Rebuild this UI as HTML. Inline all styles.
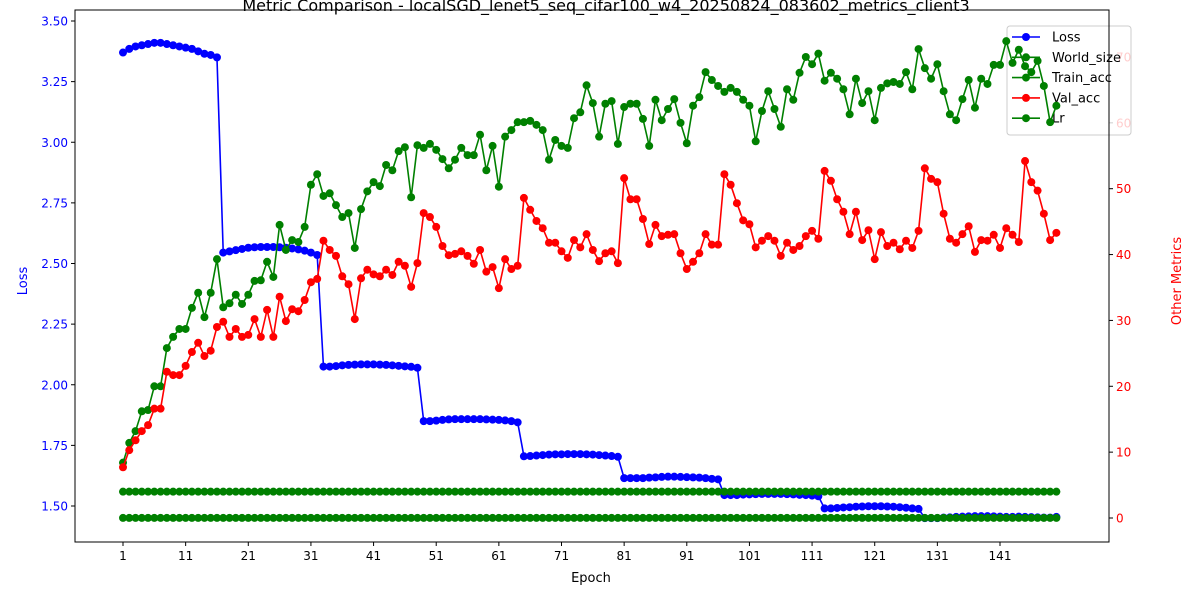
<!DOCTYPE html>
<html><head><meta charset="utf-8"><style>
body{margin:0;background:#fff;font-family:"Liberation Sans","DejaVu Sans",sans-serif}
text{font-family:"DejaVu Sans","Liberation Sans",sans-serif}
</style></head><body>
<svg id="c" width="1200" height="600" xmlns="http://www.w3.org/2000/svg">
<rect width="1200" height="600" fill="#fff"/>
<text x="606" y="11" font-size="16" text-anchor="middle">Metric Comparison - localSGD_lenet5_seq_cifar100_w4_20250824_083602_metrics_client3</text>
<g id="plot"></g>
<g id="legend"></g>
<g id="plot2"></g>
<rect x="75" y="10" width="1034" height="532" fill="none" stroke="#000" stroke-width="1"/>
<text x="591" y="582" font-size="13" text-anchor="middle">Epoch</text>
<text transform="translate(27,281) rotate(-90)" font-size="13" fill="blue" text-anchor="middle">Loss</text>
<text transform="translate(1181,281) rotate(-90)" font-size="13" fill="red" text-anchor="middle">Other Metrics</text>
</svg>
<script>
const epochs=[];for(let i=1;i<=150;i++)epochs.push(i);
const xTicks=[1,11,21,31,41,51,61,71,81,91,101,111,121,131,141];
const leftTicks=[1.50,1.75,2.00,2.25,2.50,2.75,3.00,3.25,3.50];
const rightTicks=[0,10,20,30,40,50,60,70];
const loss=[3.37,3.385,3.395,3.40,3.405,3.41,3.41,3.405,3.40,3.395,3.39,3.385,3.375,3.365,3.36,3.35,
2.545,2.55,2.555,2.56,2.565,2.567,2.568,2.568,2.568,2.567,2.565,2.562,2.558,2.553,2.545,2.535,
2.075,2.075,2.077,2.08,2.082,2.083,2.084,2.084,2.084,2.083,2.082,2.08,2.078,2.076,2.074,2.07,
1.85,1.85,1.852,1.855,1.857,1.858,1.858,1.858,1.858,1.858,1.857,1.856,1.855,1.853,1.85,1.845,
1.705,1.706,1.708,1.71,1.712,1.713,1.713,1.714,1.714,1.714,1.713,1.712,1.71,1.708,1.706,1.703,
1.615,1.615,1.615,1.615,1.617,1.618,1.62,1.621,1.621,1.62,1.619,1.618,1.617,1.615,1.612,1.61,
1.545,1.545,1.545,1.547,1.548,1.549,1.55,1.55,1.55,1.55,1.549,1.548,1.546,1.545,1.543,1.54,
1.49,1.49,1.492,1.494,1.495,1.497,1.498,1.499,1.499,1.499,1.498,1.497,1.495,1.493,1.49,1.488,
1.45,1.45,1.45,1.452,1.453,1.455,1.456,1.457,1.458,1.458,1.458,1.457,1.456,1.455,1.455,1.456,1.455,1.454,1.453,1.452,1.452,1.455];
const worldSize=epochs.map(()=>4);
const lr=epochs.map(()=>0.01);
const trainAcc=[8.4,11.4,13.2,16.2,16.4,20,20,25.8,27.5,28.7,28.7,31.9,34.2,30.5,34.2,39.3,32,32.6,33.9,32.5,
33.9,36,36.1,38.9,36.6,44.5,40.7,42.2,41.9,44.2,50.6,52.2,48.9,49.3,47.5,45.7,46.3,41,46.9,49.6,
51,50.4,53.6,52.8,55.7,56.3,48.7,56.6,56.2,56.8,55.9,54.5,53.1,54.4,56.2,55.1,55.1,58.2,52.8,56.5,
50.3,57.9,58.9,60.1,60.1,60.3,59.7,58.9,54.4,57.4,56.5,56.2,60.7,61.6,65.7,63,57.9,62.9,63.3,56.8,
62.4,62.9,62.9,60.6,56.5,63.5,60.4,62.1,63.6,60,56.9,62.6,63.9,67.7,66.5,65.6,64.7,65.3,64.7,63.5,
62.6,57.2,61.8,64.8,62.1,59.4,65.1,63.5,67.6,70,68.9,70.5,66.4,67.6,66.7,65.1,61.3,66.7,63,64.8,
60.4,65.3,66,66.2,65.9,67.7,65.1,71.2,68.3,66.7,68.9,64.8,61.3,60.4,63.6,66.5,62.3,66.7,65.9,68.8,
68.8,72.4,69.1,71.1,68.6,67.7,69.4,65.6,60.1,62.6];
const valAcc=[7.7,10.3,11.8,13.2,14.1,16.6,16.6,22.2,21.7,21.7,23.1,25.2,26.6,24.6,25.4,29,29.8,27.5,28.7,27.5,
27.8,30.2,27.5,31.6,27.5,33.6,29.9,31.7,31.4,33.1,35.8,36.3,42.1,40.7,39.8,36.7,35.5,30.2,36.4,37.7,
37,36.7,37.7,36.9,38.9,38.3,35.1,38.7,46.3,45.7,44.2,41.3,39.9,40.1,40.5,39.8,38.6,40.7,37.4,38.1,
34.9,39.3,37.8,38.3,48.6,46.8,45.1,44,41.8,41.8,40.5,39.5,42.2,41.1,43.1,40.7,39,40.2,40.5,38.7,
51.6,48.4,48.4,45.4,41.6,44.5,42.8,43,43.1,40.2,37.8,38.9,40.2,43.1,41.5,41.5,52.2,50.6,47.8,45.2,
44.6,41.1,42.1,42.8,42.1,39.8,41.8,40.7,41.3,42.8,43.6,42.4,52.7,51.2,48.4,46.5,43.1,46.5,42.2,43.7,
39.3,43.4,41.3,41.8,40.8,42.1,41,43.6,53.1,51.5,51,46.2,42.4,41.8,43.1,44.3,40.4,42.2,42.1,43,
41,44,43,41.9,54.2,51,49.7,46.2,42.2,43.3];

const NS="http://www.w3.org/2000/svg";
const X=e=>123+(e-1)*6.2643;
const YL=v=>506-(v-1.5)/0.25*60.625;
const YR=v=>518-v*6.586;
const plot=document.getElementById('plot');
const plot2=document.getElementById('plot2');
function mk(tag,attrs,parent){const el=document.createElementNS(NS,tag);for(const k in attrs)el.setAttribute(k,attrs[k]);(parent||plot).appendChild(el);return el;}

xTicks.forEach(t=>{
  const g=mk('g',{});
  
  
  mk('line',{x1:X(t),x2:X(t),y1:542,y2:546,stroke:'#000'},g);
  const tx=mk('text',{x:X(t),y:560,'font-size':12,'text-anchor':'middle'},g);tx.textContent=t;
});
leftTicks.forEach(t=>{
  const g=mk('g',{});
  
  
  mk('line',{x1:71,x2:75,y1:YL(t),y2:YL(t),stroke:'#000'},g);
  const tx=mk('text',{x:68,y:YL(t)+4.5,'font-size':12,'text-anchor':'end',fill:'blue'},g);tx.textContent=t.toFixed(2);
});
rightTicks.forEach(t=>{
  const g=mk('g',{});
  
  
  mk('line',{x1:1109,x2:1113,y1:YR(t),y2:YR(t),stroke:'#000'},g);
  const tx=mk('text',{x:1116,y:YR(t)+4.5,'font-size':12,fill:'red'},g);tx.textContent=t;
});

function series(name,vals,Y,color,parent){
  const g=mk('g',{},parent);
  
  
  const pts=vals.map((v,i)=>X(epochs[i]).toFixed(2)+','+Y(v).toFixed(2)).join(' ');
  mk('polyline',{points:pts,fill:'none',stroke:color,'stroke-width':1.6},g);
  vals.forEach((v,i)=>{
    const c=mk('circle',{cx:X(epochs[i]),cy:Y(v),r:4,fill:color},g);
    
    
  });
}
series('loss',loss,YL,'blue',plot);
series('world-size',worldSize,YR,'green',plot2);
series('train-acc',trainAcc,YR,'green',plot2);
series('val-acc',valAcc,YR,'red',plot2);
series('lr',lr,YR,'green',plot2);

const lg=document.getElementById('legend');
mk('rect',{x:1007,y:26,width:124,height:109,rx:3,fill:'#fff','fill-opacity':0.8,stroke:'#ccc'},lg);
[['Loss','blue'],['World_size','green'],['Train_acc','green'],['Val_acc','red'],['Lr','green']].forEach((d,i)=>{
  const y=37+i*20.3;
  const g=mk('g',{},lg);
  
  
  mk('line',{x1:1012,x2:1040,y1:y,y2:y,stroke:d[1],'stroke-width':1.6},g);
  mk('circle',{cx:1026,cy:y,r:4,fill:d[1]},g);
  const t=mk('text',{x:1052,y:y+4.5,'font-size':13},g);t.textContent=d[0];
});
</script>
</body></html>
